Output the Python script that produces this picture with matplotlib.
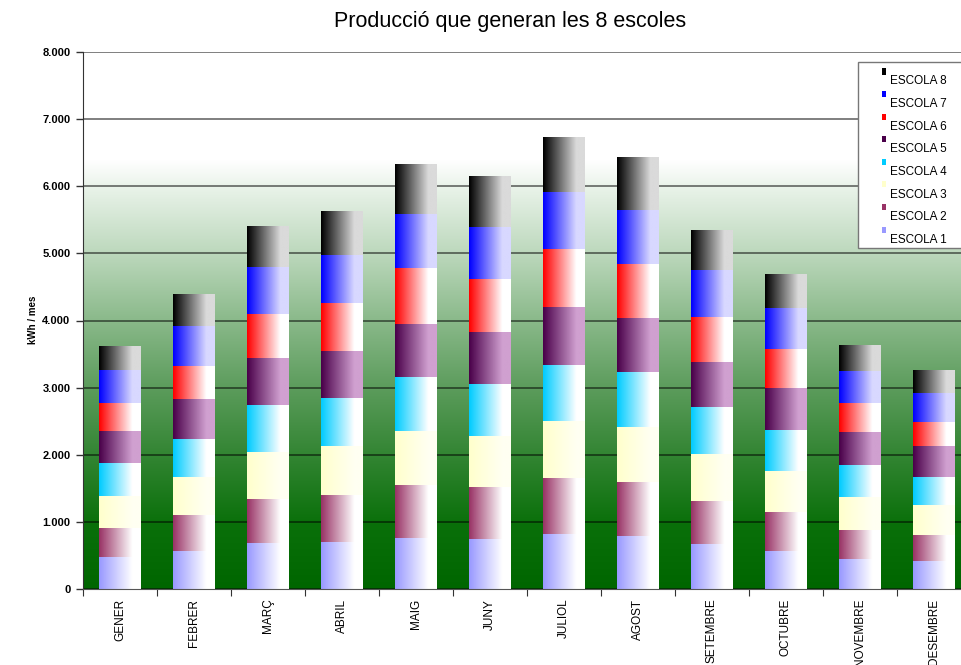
import matplotlib.pyplot as plt
import matplotlib.colors as mcolors
from matplotlib.patches import Rectangle
from matplotlib.ticker import FuncFormatter
import numpy as np

plt.rcParams['font.family'] = ['Liberation Sans', 'DejaVu Sans']

MONTHS = ['GENER', 'FEBRER', 'MARÇ', 'ABRIL', 'MAIG', 'JUNY', 'JULIOL',
          'AGOST', 'SETEMBRE', 'OCTUBRE', 'NOVEMBRE', 'DESEMBRE']
SCHOOLS = ['ESCOLA 1', 'ESCOLA 2', 'ESCOLA 3', 'ESCOLA 4',
           'ESCOLA 5', 'ESCOLA 6', 'ESCOLA 7', 'ESCOLA 8']

# kWh per month
escola1 = [470, 570, 685, 705, 760, 745, 820, 795, 670, 570, 445, 420]
escola2 = [445, 535, 655, 695, 790, 770, 835, 795, 635, 570, 435, 390]
escola3 = [470, 565, 695, 735, 810, 770, 845, 830, 705, 620, 495, 445]
escola4 = [495, 570, 705, 705, 795, 770, 840, 810, 695, 610, 470, 420]
escola5 = [470, 585, 700, 700, 795, 770, 860, 805, 680, 630, 495, 455]
escola6 = [420, 495, 655, 715, 830, 795, 860, 805, 670, 580, 435, 360]
escola7 = [495, 595, 695, 720, 810, 770, 855, 800, 695, 610, 470, 425]
escola8 = [355, 470, 605, 650, 740, 755, 805, 780, 595, 505, 385, 340]
SERIES = [escola1, escola2, escola3, escola4, escola5, escola6, escola7, escola8]

# left -> right colour of the horizontal gradient in each segment
LEFT = ['#9999ff', '#993366', '#ffffcc', '#00ccff', '#4a004a', '#ff0000', '#0000ff', '#000000']
RIGHT = ['#ffffff', '#ffffff', '#fffff2', '#ffffff', '#d0a0d0', '#ffffff', '#d8d8ff', '#dadada']

W, H = 962, 665
fig = plt.figure(figsize=(W / 100, H / 100), dpi=100)
ax = fig.add_axes([83 / W, 1 - 589 / H, 888 / W, (589 - 52) / H])

# background: white at the top fading to dark green at the bottom
stops = [(0.0, '#006600'), (0.12, '#0a700a'), (0.25, '#338533'), (0.375, '#5c9c5c'),
         (0.5, '#8ab98a'), (0.625, '#bcd8bc'), (0.74, '#e6f1e6'), (0.8, '#ffffff'), (1.0, '#ffffff')]
bg_cmap = mcolors.LinearSegmentedColormap.from_list('bg', stops)
bg = np.linspace(1, 0, 256).reshape(-1, 1)
ax.imshow(bg, cmap=bg_cmap, vmin=0, vmax=1, extent=[0, 1, 0, 1], transform=ax.transAxes,
          aspect='auto', zorder=-2, interpolation='bilinear')

x = np.arange(len(MONTHS))
bottom = np.zeros(len(MONTHS))
t = np.clip(np.linspace(0, 1, 64) / 0.8, 0, 1)
for vals, c0, c1 in zip(SERIES, LEFT, RIGHT):
    a = np.array(mcolors.to_rgb(c0))
    b = np.array(mcolors.to_rgb(c1))
    grad = (a[None, :] * (1 - t[:, None]) + b[None, :] * t[:, None])[None, :, :]
    bars = ax.bar(x, vals, width=0.56, bottom=bottom, color='none', linewidth=0, zorder=2)
    for p in bars:
        ax.imshow(grad, extent=[p.get_x(), p.get_x() + p.get_width(),
                                p.get_y(), p.get_y() + p.get_height()],
                  aspect='auto', zorder=2, interpolation='bilinear')
    bottom += np.array(vals)

ax.set_xlim(-0.5, len(MONTHS) - 0.5)
ax.set_ylim(0, 8000)

ax.set_yticks(np.arange(0, 8001, 1000))
ax.yaxis.set_major_formatter(FuncFormatter(lambda v, _: f'{int(v):,}'.replace(',', '.')))
ax.tick_params(axis='y', direction='out', length=5, width=1, color='#333333', pad=4,
               labelsize=8)
for lab in ax.get_yticklabels():
    lab.set_fontweight('bold')
ax.yaxis.grid(True, color='black', alpha=0.5, linewidth=1.4)
ax.set_axisbelow(True)

ax.set_xticks(np.arange(len(MONTHS) + 1) - 0.5)
ax.set_xticklabels([])
ax.set_xticks(x, minor=True)
ax.set_xticklabels(MONTHS, minor=True, rotation=90, fontsize=8.5, va='top')
ax.tick_params(axis='x', which='major', direction='out', length=5, color='#333333')
ax.tick_params(axis='x', which='minor', length=0, pad=7)

for s in ['top', 'right']:
    ax.spines[s].set_visible(False)
ax.spines['left'].set_color('#333333')
ax.spines['bottom'].set_color('#555555')

fig.text(510 / W, 1 - 22 / H, 'Producció que generan les 8 escoles', fontsize=15.5,
         ha='center', va='center')
fig.text(33 / W, 1 - 320 / H, 'kWh / mes', rotation=90, fontsize=7, fontweight='bold',
         ha='center', va='center')

# legend box, ESCOLA 8 on top
fig.add_artist(Rectangle((858 / W, 1 - 248 / H), 120 / W, 186 / H, transform=fig.transFigure,
                         facecolor='white', edgecolor='#777777', linewidth=1, zorder=5))
for i, name in enumerate(SCHOOLS[::-1]):
    k = len(SCHOOLS) - 1 - i
    ty = 81.5 + i * 22.6
    fig.add_artist(Rectangle((882 / W, 1 - (ty - 7) / H), 4 / W, 6 / H,
                             transform=fig.transFigure, facecolor=LEFT[k],
                             edgecolor='none', zorder=6))
    fig.text(890 / W, 1 - ty / H, name, fontsize=8.5, ha='left', va='center', zorder=6)

fig.savefig('out.png', dpi=100)
